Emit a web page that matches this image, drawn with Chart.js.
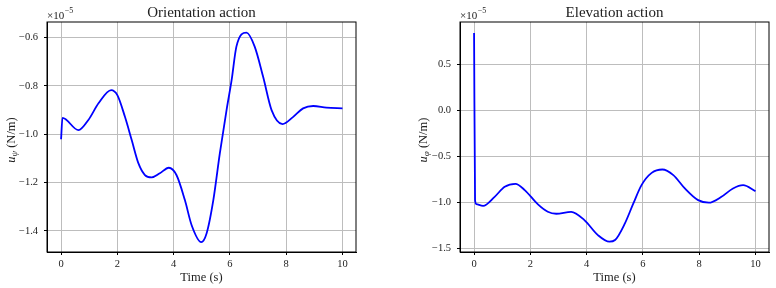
<!DOCTYPE html>
<html lang="en">
<head>
  <meta charset="UTF-8">
  <title>Orientation / Elevation action</title>
  <style>
    body { margin: 0; background: #fff; }
    #wrap { position: relative; width: 776px; height: 288px; }
    .box { position: absolute; top: 0; width: 388px; height: 288px; }
  </style>
</head>
<body>
  <div id="wrap">
    <div class="box" style="left:0"><canvas id="orient"></canvas></div>
    <div class="box" style="left:388px"><canvas id="elev"></canvas></div>
  </div>

  <script src="https://cdn.jsdelivr.net/npm/chart.js"></script>
  <script>
    // values in units of 1e-5 N/m
    const orientTime = [0, 0.05, 0.62, 0.97, 1.33, 1.78, 2.0, 2.27, 2.51, 2.75, 2.98, 3.22, 3.51, 3.83, 4.1, 4.4, 4.64, 4.98, 5.17, 5.41, 5.64, 5.88, 6.06, 6.23, 6.59, 6.88, 7.18, 7.48, 7.87, 8.25, 8.6, 8.96, 9.43, 10];
    const orientVals = [-1.021, -0.932, -0.983, -0.941, -0.872, -0.817, -0.838, -0.928, -1.024, -1.121, -1.169, -1.179, -1.162, -1.139, -1.169, -1.273, -1.377, -1.447, -1.411, -1.273, -1.08, -0.90, -0.776, -0.637, -0.579, -0.637, -0.762, -0.90, -0.958, -0.928, -0.893, -0.883, -0.890, -0.893];

    const elevTime = [0, 0.035, 0.08, 0.32, 0.73, 1.09, 1.47, 1.8, 2.27, 2.62, 2.92, 3.45, 3.92, 4.4, 4.81, 5.01, 5.36, 5.66, 5.95, 6.31, 6.69, 7.08, 7.49, 7.96, 8.34, 8.79, 9.2, 9.56, 10];
    const elevVals = [0.844, -0.972, -1.015, -1.034, -0.936, -0.827, -0.795, -0.863, -1.019, -1.099, -1.12, -1.099, -1.189, -1.352, -1.424, -1.406, -1.225, -1.008, -0.809, -0.676, -0.639, -0.70, -0.845, -0.972, -1.0, -0.936, -0.845, -0.809, -0.874];

    const xTicks = [0, 2, 4, 6, 8, 10];
    const orientYTicks = [-1.4, -1.2, -1.0, -0.8, -0.6];
    const elevYTicks = [-1.5, -1.0, -0.5, 0.0, 0.5];

    const serif = '"Liberation Serif", "DejaVu Serif", serif';
    const ink = '#222';

    function fmt(v) {
      return v.toFixed(1).replace('-', '\u2212');
    }

    // title, "x10^-5" offset text, y label with subscript, top/right spines
    const decor = {
      id: 'decor',
      afterDraw(chart) {
        const o = chart.options.plugins.decor;
        const a = chart.chartArea;
        const c = chart.ctx;
        c.save();
        c.strokeStyle = '#000';
        c.lineWidth = 1;
        c.strokeRect(a.left, a.top, a.right - a.left, a.bottom - a.top);

        c.fillStyle = ink;
        c.textAlign = 'center';
        c.textBaseline = 'alphabetic';
        c.font = '15px ' + serif;
        c.fillText(o.title, (a.left + a.right) / 2, a.top - 5);

        c.textAlign = 'left';
        c.font = '11px ' + serif;
        c.fillText('\u00d710', a.left, a.top - 3);
        const w = c.measureText('\u00d710').width;
        c.font = '8px ' + serif;
        c.fillText('\u22125', a.left + w + 0.5, a.top - 9);

        // y axis label, rotated
        c.translate(o.ylabelX, (a.top + a.bottom) / 2 + 3);
        c.rotate(-Math.PI / 2);
        c.font = 'italic 12.5px ' + serif;
        const uw = c.measureText('u').width;
        c.font = 'italic 9px ' + serif;
        const sw = c.measureText(o.sub).width;
        c.font = '12.5px ' + serif;
        const rest = ' (N/m)';
        const rw = c.measureText(rest).width;
        let x = -(uw + sw + rw) / 2;
        c.textBaseline = 'middle';
        c.font = 'italic 12.5px ' + serif;
        c.fillText('u', x, 0);
        x += uw;
        c.font = 'italic 9px ' + serif;
        c.fillText(o.sub, x, 3);
        x += sw;
        c.font = '12.5px ' + serif;
        c.fillText(rest, x, 0);
        c.restore();
      }
    };

    function makeChart(id, time, vals, yTicks, yMin, yMax, opts) {
      const pts = time.map((t, i) => ({ x: t, y: vals[i] }));
      return new Chart(document.getElementById(id), {
        type: 'line',
        data: {
          datasets: [{
            data: pts,
            borderColor: '#0000ff',
            borderWidth: 1.8,
            pointRadius: 0,
            cubicInterpolationMode: 'monotone',
            fill: false
          }]
        },
        options: {
          responsive: true,
          maintainAspectRatio: false,
          animation: false,
          layout: { padding: { top: 22, right: opts.padRight, left: 0, bottom: 0 } },
          plugins: {
            legend: { display: false },
            tooltip: { enabled: false },
            decor: opts
          },
          scales: {
            x: {
              type: 'linear',
              min: -0.5,
              max: 10.48,
              afterBuildTicks: s => { s.ticks = xTicks.map(v => ({ value: v })); },
              afterFit: s => { s.height = 36; },
              grid: { color: '#bdbdbd', lineWidth: 1, tickColor: '#000', tickLength: 3 },
              border: { color: '#000', width: 1 },
              ticks: { color: ink, font: { family: serif, size: 10.5 }, padding: 3, maxRotation: 0,
                       callback: v => String(v) },
              title: { display: true, text: 'Time (s)', color: ink,
                       font: { family: serif, size: 12.5 }, padding: { top: 0, bottom: 3 } }
            },
            y: {
              min: yMin,
              max: yMax,
              afterBuildTicks: s => { s.ticks = yTicks.map(v => ({ value: v })); },
              afterFit: s => { s.width = opts.yWidth; },
              grid: { color: '#bdbdbd', lineWidth: 1, tickColor: '#000', tickLength: 3 },
              border: { color: '#000', width: 1 },
              ticks: { color: ink, font: { family: serif, size: 10.5 }, padding: 6,
                       callback: v => fmt(v) }
            }
          }
        },
        plugins: [decor]
      });
    }

    makeChart('orient', orientTime, orientVals, orientYTicks, -1.488, -0.535,
      { title: 'Orientation action', sub: '\u03c8', ylabelX: 12, padRight: 32, yWidth: 47 });
    makeChart('elev', elevTime, elevVals, elevYTicks, -1.536, 0.964,
      { title: 'Elevation action', sub: '\u03c6', ylabelX: 36, padRight: 7, yWidth: 72 });
  </script>
</body>
</html>
